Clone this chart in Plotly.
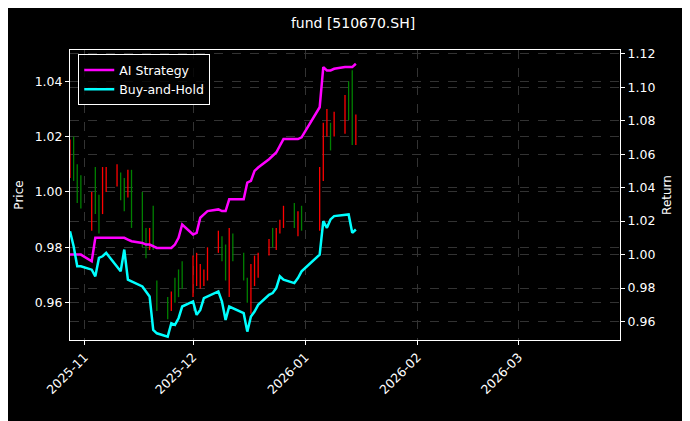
import pandas as pd
import plotly.graph_objects as go

dates = [d for d in pd.bdate_range("2025-10-28", "2026-01-15")
         if d.strftime("%Y-%m-%d") not in ("2026-01-01", "2026-01-02")]

high = [1.019, 1.020, 1.010, 1.006, 1.000, 1.009, 0.999, 1.009, 1.009, 1.010,
        1.007, 1.005, 1.008, 1.008, 1.000, 0.987, 0.987, 0.995, 0.968, 0.962,
        0.964, 0.969, 0.972, 0.975, 0.977, 0.978, 0.974, 0.972, 0.980, 0.986,
        0.984, 0.981, 0.987, 0.985, 0.978, 0.969, 0.974, 0.977, 0.978, 0.983,
        0.987, 0.987, 0.990, 0.995, 0.996, 0.993, 0.995, 1.009, 1.025, 1.030,
        1.025, 1.029, 1.035, 1.040, 1.044, 1.028]
low = [1.005, 1.004, 0.996, 0.994, 0.986, 0.992, 0.985, 0.992, 1.000, 1.002,
       0.997, 0.993, 0.998, 0.987, 0.980, 0.976, 0.979, 0.979, 0.957, 0.954,
       0.957, 0.960, 0.962, 0.965, 0.962, 0.966, 0.965, 0.966, 0.968, 0.978,
       0.975, 0.968, 0.962, 0.975, 0.968, 0.960, 0.956, 0.966, 0.969, 0.977,
       0.980, 0.979, 0.985, 0.987, 0.987, 0.984, 0.986, 0.986, 1.004, 1.020,
       1.015, 1.020, 1.021, 1.026, 1.017, 1.017]
open_ = [1.007, 1.016, 1.008, 1.003, 0.988, 1.006, 0.997, 0.994, 1.002, 1.003,
         1.005, 1.003, 0.999, 1.005, 0.997, 0.985, 0.980, 0.992, 0.966, 0.961,
         0.958, 0.968, 0.970, 0.973, 0.964, 0.967, 0.966, 0.967, 0.969, 0.979,
         0.983, 0.979, 0.964, 0.984, 0.977, 0.968, 0.958, 0.967, 0.970, 0.978,
         0.986, 0.980, 0.986, 0.988, 0.995, 0.985, 0.994, 0.988, 1.006, 1.021,
         1.024, 1.021, 1.022, 1.038, 1.042, 1.018]
close = [1.016, 1.007, 0.998, 0.996, 0.998, 0.994, 0.987, 1.006, 1.007, 1.008,
         0.999, 0.995, 1.006, 0.990, 0.983, 0.978, 0.985, 0.981, 0.959, 0.955,
         0.963, 0.961, 0.963, 0.966, 0.975, 0.976, 0.973, 0.971, 0.978, 0.985,
         0.976, 0.970, 0.984, 0.976, 0.969, 0.961, 0.972, 0.976, 0.977, 0.982,
         0.981, 0.986, 0.989, 0.994, 0.988, 0.992, 0.987, 1.007, 1.023, 1.028,
         1.016, 1.028, 1.033, 1.028, 1.019, 1.027]

ai_strategy = [1.000, 1.000, 1.000, 1.000, 0.996, 1.010, 1.010, 1.010, 1.010, 1.010,
               1.010, 1.010, 1.009, 1.008, 1.007, 1.006, 1.006, 1.005, 1.004, 1.004,
               1.004, 1.006, 1.010, 1.018, 1.012, 1.013, 1.022, 1.024, 1.026, 1.027,
               1.026, 1.026, 1.033, 1.033, 1.033, 1.043, 1.044, 1.050, 1.052, 1.057,
               1.059, 1.061, 1.065, 1.069, 1.069, 1.069, 1.070, 1.088, 1.112, 1.110,
               1.110, 1.111, 1.112, 1.112, 1.112, 1.114]
buy_hold = [1.014, 1.005, 0.993, 0.993, 0.991, 0.987, 0.998, 0.999, 1.001, 0.993,
            0.990, 1.003, 0.985, 0.984, 0.981, 0.978, 0.975, 0.955, 0.953, 0.951,
            0.959, 0.958, 0.962, 0.969, 0.972, 0.964, 0.967, 0.974, 0.975, 0.978,
            0.972, 0.961, 0.969, 0.968, 0.965, 0.954, 0.963, 0.966, 0.970, 0.976,
            0.977, 0.980, 0.987, 0.985, 0.983, 0.986, 0.990, 1.000, 1.020, 1.016,
            1.021, 1.023, 1.024, 1.024, 1.013, 1.015]

fig = go.Figure()
fig.add_trace(go.Ohlc(x=dates, open=open_, high=high, low=low, close=close,
                      tickwidth=0, showlegend=False, yaxis="y",
                      increasing_line=dict(color="#ff0000", width=1.3),
                      decreasing_line=dict(color="#008000", width=1.3)))
fig.add_trace(go.Scatter(x=dates, y=ai_strategy, name="AI Strategy", yaxis="y2",
                         mode="lines", line=dict(color="#ff00ff", width=2.5)))
fig.add_trace(go.Scatter(x=dates, y=buy_hold, name="Buy-and-Hold", yaxis="y2",
                         mode="lines", line=dict(color="#00ffff", width=2.5)))

grid = dict(showgrid=True, gridcolor="#333333", griddash="dash", gridwidth=0.5,
            showline=True, linecolor="white", linewidth=1, ticks="outside",
            tickcolor="white", ticklen=4, zeroline=False, color="white",
            automargin=False, tickfont=dict(size=12.5))
fig.update_layout(
    width=690, height=421,
    paper_bgcolor="black", plot_bgcolor="black",
    font=dict(family="DejaVu Sans", size=12, color="white"),
    title=dict(text="fund [510670.SH]", x=0.5, xanchor="center", y=0.975,
               font=dict(size=14)),
    margin=dict(l=62, r=78, t=42, b=89),
    xaxis=dict(grid, range=["2025-10-28", "2026-03-29"], tickformat="%Y-%m",
               dtick="M1", tick0="2025-11-01", tickangle=-45, mirror=True,
               rangeslider=dict(visible=False)),
    yaxis=dict(grid, title=dict(text="Price", standoff=8, font=dict(size=12)),
               range=[0.9465, 1.0513], dtick=0.02, tickformat=".2f", mirror=True),
    yaxis2=dict(grid, title=dict(text="Return", standoff=8, font=dict(size=12)),
                overlaying="y", side="right", range=[0.949, 1.1222], dtick=0.02,
                tickformat=".2f"),
    legend=dict(x=0.015, y=0.985, xanchor="left", yanchor="top",
                bgcolor="rgba(0,0,0,0.8)", bordercolor="white", borderwidth=1,
                font=dict(size=12.5)),
)
fig.write_html("out.html")
